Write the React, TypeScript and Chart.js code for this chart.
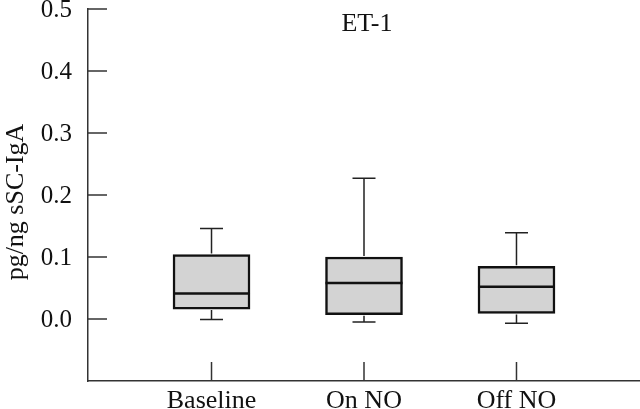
import React, { useEffect, useRef } from "react";
import { Chart, registerables } from "chart.js";

Chart.register(...registerables);

const categories = ["Baseline", "On NO", "Off NO"];
const whiskerLow = [-0.001, -0.005, -0.007];
const q1 = [0.016, 0.007, 0.009];
const median = [0.041, 0.058, 0.052];
const q3 = [0.104, 0.100, 0.085];
const whiskerHigh = [0.146, 0.227, 0.139];
const yTicks = [0.0, 0.1, 0.2, 0.3, 0.4, 0.5];
const title = "ET-1";
const yTitle = "pg/ng sSC-IgA";

const FONT = "'Liberation Serif', 'DejaVu Serif', serif";
const AXIS = "#333";

const boxPlugin = {
  id: "boxExtras",
  afterDatasetsDraw(chart: any) {
    const { ctx, scales, chartArea } = chart;
    const xs = scales.x;
    const ys = scales.y;
    ctx.save();
    categories.forEach((_, i) => {
      const cx = xs.getPixelForValue(i);
      const capHalf = 11.5;
      ctx.strokeStyle = "#222";
      ctx.lineWidth = 1.5;
      const yHi = ys.getPixelForValue(whiskerHigh[i]);
      const yQ3 = ys.getPixelForValue(q3[i]);
      const yLo = ys.getPixelForValue(whiskerLow[i]);
      const yQ1 = ys.getPixelForValue(q1[i]);
      ctx.beginPath();
      ctx.moveTo(cx, yQ3 - 1);
      ctx.lineTo(cx, yHi);
      ctx.moveTo(cx - capHalf, yHi);
      ctx.lineTo(cx + capHalf, yHi);
      ctx.moveTo(cx, yQ1 + 1);
      ctx.lineTo(cx, yLo);
      ctx.moveTo(cx - capHalf, yLo);
      ctx.lineTo(cx + capHalf, yLo);
      ctx.stroke();
      const meta = chart.getDatasetMeta(0);
      const bar = meta.data[i];
      const half = bar.width / 2;
      ctx.strokeStyle = "#111";
      ctx.lineWidth = 2.5;
      const ym = ys.getPixelForValue(median[i]);
      ctx.beginPath();
      ctx.moveTo(cx - half, ym);
      ctx.lineTo(cx + half, ym);
      ctx.stroke();
    });
    ctx.strokeStyle = AXIS;
    ctx.lineWidth = 1.5;
    ctx.fillStyle = "#111";
    ctx.font = "25px " + FONT;
    ctx.textAlign = "right";
    ctx.textBaseline = "middle";
    yTicks.forEach((v) => {
      const y = ys.getPixelForValue(v);
      ctx.beginPath();
      ctx.moveTo(chartArea.left, y);
      ctx.lineTo(chartArea.left + 19, y);
      ctx.stroke();
      ctx.fillText(v.toFixed(1), chartArea.left - 16, y + 1);
    });
    ctx.font = "26px " + FONT;
    ctx.textAlign = "center";
    ctx.textBaseline = "alphabetic";
    categories.forEach((c, i) => {
      const x = xs.getPixelForValue(i);
      ctx.beginPath();
      ctx.moveTo(x, chartArea.bottom);
      ctx.lineTo(x, chartArea.bottom - 19);
      ctx.stroke();
      ctx.fillText(c, x, chartArea.bottom + 27);
    });
    ctx.fillText(title, 367, chartArea.top + 22);
    ctx.save();
    ctx.translate(23, 202);
    ctx.rotate(-Math.PI / 2);
    ctx.textAlign = "center";
    ctx.textBaseline = "alphabetic";
    ctx.fillText(yTitle, 0, 0);
    ctx.restore();
    ctx.restore();
  },
};

export default function App() {
  const ref = useRef<HTMLCanvasElement>(null);
  useEffect(() => {
    if (!ref.current) return;
    const chart = new Chart(ref.current, {
      type: "bar",
      data: {
        datasets: [
          {
            data: categories.map((_, i) => ({ x: i, y: [q1[i], q3[i]] })) as any,
            backgroundColor: "#d3d3d3",
            borderColor: "#111",
            borderWidth: 2.5,
            borderSkipped: false,
            barThickness: 77,
          },
        ],
      },
      options: {
        animation: false,
        responsive: false,
        maintainAspectRatio: false,
        layout: { padding: { top: 9, right: 0, left: 0, bottom: 0 } },
        plugins: { legend: { display: false }, tooltip: { enabled: false }, title: { display: false } },
        scales: {
          x: {
            type: "linear",
            offset: false,
            min: -0.81,
            max: 2.81,
            ticks: { display: false },
            grid: { display: false },
            border: { display: true, color: AXIS, width: 1.5 },
            afterFit: (s: any) => {
              s.height = 28;
            },
          },
          y: {
            type: "linear",
            min: -0.1,
            max: 0.5,
            ticks: { display: false },
            grid: { display: false },
            border: { display: true, color: AXIS, width: 1.5 },
            afterFit: (s: any) => {
              s.width = 88;
            },
          },
        },
      },
      plugins: [boxPlugin],
    });
    return () => chart.destroy();
  }, []);
  return (
    <div style={{ position: "fixed", left: 0, top: 0, width: 640, height: 409, background: "#fff" }}>
      <canvas ref={ref} width={640} height={409} style={{ display: "block" }} />
    </div>
  );
}
